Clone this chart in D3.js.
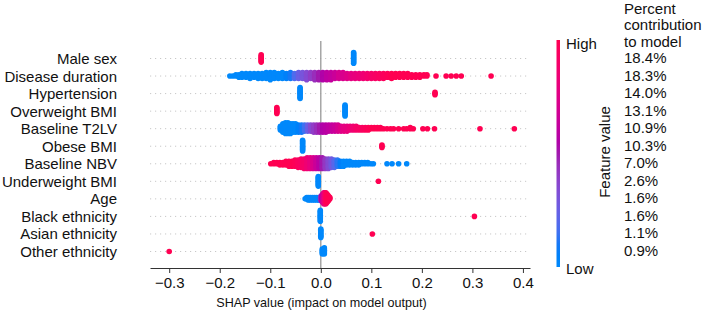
<!DOCTYPE html>
<html>
<head>
<meta charset="utf-8">
<script src="https://cdn.jsdelivr.net/npm/d3@7"></script>
<style>
  body { margin: 0; background: #fff; }
  svg { font-family: "Liberation Sans", Arial, Helvetica, sans-serif; }
</style>
</head>
<body>
<svg id="chart" width="709" height="315"></svg>
<script>
// feature names, top to bottom
const features = ["Male sex", "Disease duration", "Hypertension", "Overweight BMI",
  "Baseline T2LV", "Obese BMI", "Baseline NBV", "Underweight BMI", "Age",
  "Black ethnicity", "Asian ethnicity", "Other ethnicity"];

const percents = ["18.4%", "18.3%", "14.0%", "13.1%", "10.9%", "10.3%",
  "7.0%", "2.6%", "1.6%", "1.6%", "1.1%", "0.9%"];

const xTicks = [-0.3, -0.2, -0.1, 0.0, 0.1, 0.2, 0.3, 0.4];

// each entry: [SHAP value, feature value 0..1 (low..high), number of points]
const maleSex = [[-0.118, 1, 7], [0.065, 0, 10]];

const diseaseDuration = [
  [-0.180, 0, 1], [-0.174, 0, 1], [-0.168, 0, 2], [-0.162, 0, 3], [-0.156, 0, 4],
  [-0.148, 0, 4], [-0.140, 0, 5], [-0.132, 0, 4], [-0.124, 0, 5], [-0.116, 0, 5],
  [-0.108, 0, 6], [-0.100, 0, 7], [-0.092, 0, 6], [-0.084, 0, 5], [-0.076, 0, 6],
  [-0.068, 0.05, 5], [-0.060, 0.1, 6], [-0.052, 0.18, 5], [-0.044, 0.25, 6],
  [-0.036, 0.3, 6], [-0.028, 0.35, 7], [-0.020, 0.4, 6], [-0.012, 0.45, 7],
  [-0.004, 0.5, 7], [0.004, 0.55, 7], [0.012, 0.6, 7], [0.020, 0.62, 7],
  [0.028, 0.65, 6], [0.036, 0.7, 6], [0.044, 0.72, 6], [0.052, 0.75, 5],
  [0.060, 0.78, 5], [0.068, 0.8, 5], [0.076, 0.82, 5], [0.084, 0.85, 5],
  [0.092, 0.88, 5], [0.100, 0.9, 5], [0.108, 0.92, 5], [0.116, 0.94, 5],
  [0.124, 0.96, 5], [0.132, 0.98, 4], [0.140, 1, 5], [0.148, 1, 4],
  [0.156, 1, 4], [0.164, 1, 4], [0.172, 1, 4], [0.180, 1, 3], [0.188, 1, 3],
  [0.196, 1, 3], [0.204, 1, 2], [0.210, 1, 2], [0.228, 1, 1], [0.248, 1, 1],
  [0.258, 1, 1], [0.268, 1, 1], [0.278, 1, 1], [0.337, 1, 1]
];

const hypertension = [[-0.041, 0, 10], [0.226, 1, 3]];

const overweightBMI = [[-0.087, 1, 6], [0.048, 0, 10]];

const baselineT2LV = [
  [-0.080, 0, 4], [-0.075, 0, 8], [-0.070, 0, 10], [-0.065, 0, 10], [-0.060, 0, 9],
  [-0.055, 0, 8], [-0.050, 0, 8], [-0.044, 0.05, 7], [-0.038, 0.1, 7],
  [-0.032, 0.15, 6], [-0.026, 0.25, 6], [-0.020, 0.35, 6], [-0.014, 0.4, 7],
  [-0.008, 0.45, 7], [-0.002, 0.5, 7], [0.004, 0.55, 7], [0.010, 0.58, 7],
  [0.016, 0.6, 6], [0.022, 0.62, 6], [0.028, 0.65, 6], [0.034, 0.7, 6],
  [0.040, 0.75, 5], [0.046, 0.78, 5], [0.052, 0.8, 5], [0.058, 0.83, 4],
  [0.064, 0.86, 4], [0.070, 0.9, 4], [0.076, 0.92, 3], [0.082, 0.94, 3],
  [0.088, 0.96, 3], [0.094, 0.98, 3], [0.100, 1, 2], [0.106, 1, 2],
  [0.112, 1, 2], [0.118, 1, 2], [0.124, 1, 1], [0.131, 1, 1], [0.138, 1, 1],
  [0.144, 1, 1], [0.154, 1, 1], [0.164, 1, 1], [0.170, 1, 1], [0.177, 1, 2],
  [0.183, 1, 1], [0.202, 1, 1], [0.211, 1, 1], [0.225, 1, 1], [0.315, 1, 1],
  [0.383, 1, 1]
];

const obeseBMI = [[-0.036, 0, 10], [0.121, 1, 3]];

const baselineNBV = [
  [-0.099, 1, 1], [-0.093, 1, 2], [-0.087, 1, 2], [-0.081, 1, 3], [-0.075, 1, 3],
  [-0.069, 1, 4], [-0.063, 1, 5], [-0.057, 1, 5], [-0.051, 0.98, 6],
  [-0.045, 0.95, 7], [-0.039, 0.92, 8], [-0.033, 0.9, 9], [-0.027, 0.85, 10],
  [-0.021, 0.8, 10], [-0.015, 0.72, 10], [-0.009, 0.65, 10], [-0.003, 0.58, 10],
  [0.003, 0.5, 10], [0.009, 0.42, 9], [0.015, 0.35, 9], [0.021, 0.28, 8],
  [0.027, 0.2, 7], [0.033, 0.12, 6], [0.039, 0.06, 5], [0.045, 0, 5],
  [0.051, 0, 4], [0.057, 0, 4], [0.063, 0, 3], [0.069, 0, 3], [0.075, 0, 3],
  [0.081, 0, 2], [0.087, 0, 2], [0.093, 0, 2], [0.099, 0, 1], [0.104, 0, 1],
  [0.131, 0, 1], [0.141, 0, 1], [0.154, 0, 1], [0.170, 0, 1]
];

const underweightBMI = [[-0.005, 0, 9], [0.114, 1, 1]];

const age = [
  [-0.031, 0, 1], [-0.028, 0, 2], [-0.025, 0, 3], [-0.021, 0, 3], [-0.017, 0, 3],
  [-0.013, 0, 3], [-0.009, 0, 3], [-0.005, 0, 3], [-0.002, 0.1, 3],
  [0.000, 0.45, 4], [0.002, 0.55, 6], [0.004, 0.65, 8], [0.006, 0.75, 10],
  [0.008, 0.85, 10], [0.010, 0.95, 10], [0.012, 1, 8], [0.014, 1, 6],
  [0.016, 1, 4], [0.018, 1, 2]
];

const blackEthnicity = [[-0.001, 0, 10], [0.304, 1, 1]];

const asianEthnicity = [[0.000, 0, 8], [0.102, 1, 1]];

const otherEthnicity = [[0.003, 0, 5], [0.007, 0, 6], [-0.300, 1, 1]];

const rowData = [maleSex, diseaseDuration, hypertension, overweightBMI, baselineT2LV,
  obeseBMI, baselineNBV, underweightBMI, age, blackEthnicity, asianEthnicity, otherEthnicity];

// shap red_blue colormap (lch interpolation, lightness dips in the middle)
function shapColor(t) {
  const l = t < 0.5 ? 54 - 14 * (t / 0.5) : 40 + 14 * ((t - 0.5) / 0.5);
  const c = 70 + 20 * t;
  const h = (266.93 + (380.32 - 266.93) * t) % 360;
  return d3.hcl(h, c, l).formatHex();
}

const svg = d3.select("#chart");
const textColor = "#111";
const fontSize = 15;
const plotLeft = 150, plotRight = 530, plotTop = 41, plotBottom = 268;

const x = d3.scaleLinear().domain([-0.338, 0.414]).range([plotLeft, plotRight]);
const y = d3.scalePoint().domain(features).range([58.5, 251.5]);

const dotR = 2.8, layerStep = 1.2;

// row guide lines
svg.selectAll(".row_line").data(features).join("line").attr("class", "row_line")
  .attr("x1", plotLeft).attr("x2", plotRight)
  .attr("y1", d => y(d)).attr("y2", d => y(d))
  .attr("stroke", "#c8c8c8").attr("stroke-width", 1)
  .attr("stroke-dasharray", "1.2,3.8");

// zero line
svg.append("line")
  .attr("x1", x(0)).attr("x2", x(0))
  .attr("y1", plotTop).attr("y2", plotBottom)
  .attr("stroke", "#999").attr("stroke-width", 1.3);

// stack points of each value into layers (beeswarm)
const points = [];
rowData.forEach((groups, i) => {
  groups.forEach(([v, f, n]) => {
    for (let k = 0; k < n; k++) {
      const off = Math.ceil(k / 2) * (k % 2 ? -1 : 1) * layerStep;
      points.push({ feature: features[i], v: v, f: f, off: off });
    }
  });
});

svg.selectAll(".dot").data(points).join("circle").attr("class", "dot")
  .attr("cx", d => x(d.v))
  .attr("cy", d => y(d.feature) + d.off)
  .attr("r", dotR)
  .attr("fill", d => shapColor(d.f));

// feature labels
svg.selectAll(".feat_label").data(features).join("text").attr("class", "feat_label")
  .attr("x", 117).attr("y", d => y(d))
  .attr("text-anchor", "end").attr("dominant-baseline", "central")
  .attr("font-size", fontSize).attr("fill", textColor)
  .text(d => d);

// x axis
const xAxis = svg.append("g")
  .attr("transform", `translate(0, ${plotBottom})`)
  .call(d3.axisBottom(x).tickValues(xTicks).tickFormat(d3.format(".1f"))
    .tickSize(5).tickSizeOuter(0).tickPadding(4));
xAxis.select(".domain").attr("stroke", "#333");
xAxis.selectAll(".tick line").attr("stroke", "#333");
xAxis.selectAll(".tick text").attr("font-size", fontSize).attr("fill", textColor)
  .attr("font-family", "Liberation Sans, Arial, sans-serif");

svg.append("text")
  .attr("x", 321.5).attr("y", 303)
  .attr("text-anchor", "middle").attr("dominant-baseline", "central")
  .attr("font-size", 12.6).attr("fill", textColor)
  .text("SHAP value (impact on model output)");

// colour bar
const grad = svg.append("defs").append("linearGradient")
  .attr("id", "cbar").attr("x1", 0).attr("x2", 0).attr("y1", 1).attr("y2", 0);
grad.selectAll("stop").data(d3.range(0, 1.0001, 0.05)).join("stop")
  .attr("offset", d => d).attr("stop-color", d => shapColor(d));

svg.append("rect")
  .attr("x", 556.5).attr("y", 40).attr("width", 3.5).attr("height", 227)
  .attr("fill", "url(#cbar)");

svg.append("text").attr("x", 566).attr("y", 43)
  .attr("dominant-baseline", "central").attr("font-size", fontSize).attr("fill", textColor)
  .text("High");
svg.append("text").attr("x", 566).attr("y", 268)
  .attr("dominant-baseline", "central").attr("font-size", fontSize).attr("fill", textColor)
  .text("Low");
svg.append("text")
  .attr("transform", "translate(604, 152) rotate(-90)")
  .attr("text-anchor", "middle").attr("dominant-baseline", "central")
  .attr("font-size", fontSize).attr("fill", textColor)
  .text("Feature value");

// percent contribution column
svg.selectAll(".pct_head").data(["Percent", "contribution", "to model"]).join("text")
  .attr("class", "pct_head")
  .attr("x", 624).attr("y", (d, i) => 8.5 + i * 16.3)
  .attr("dominant-baseline", "central").attr("font-size", fontSize).attr("fill", textColor)
  .text(d => d);

svg.selectAll(".pct").data(percents).join("text").attr("class", "pct")
  .attr("x", 624).attr("y", (d, i) => y(features[i]) - 1)
  .attr("dominant-baseline", "central").attr("font-size", fontSize).attr("fill", textColor)
  .text(d => d);
</script>
</body>
</html>
